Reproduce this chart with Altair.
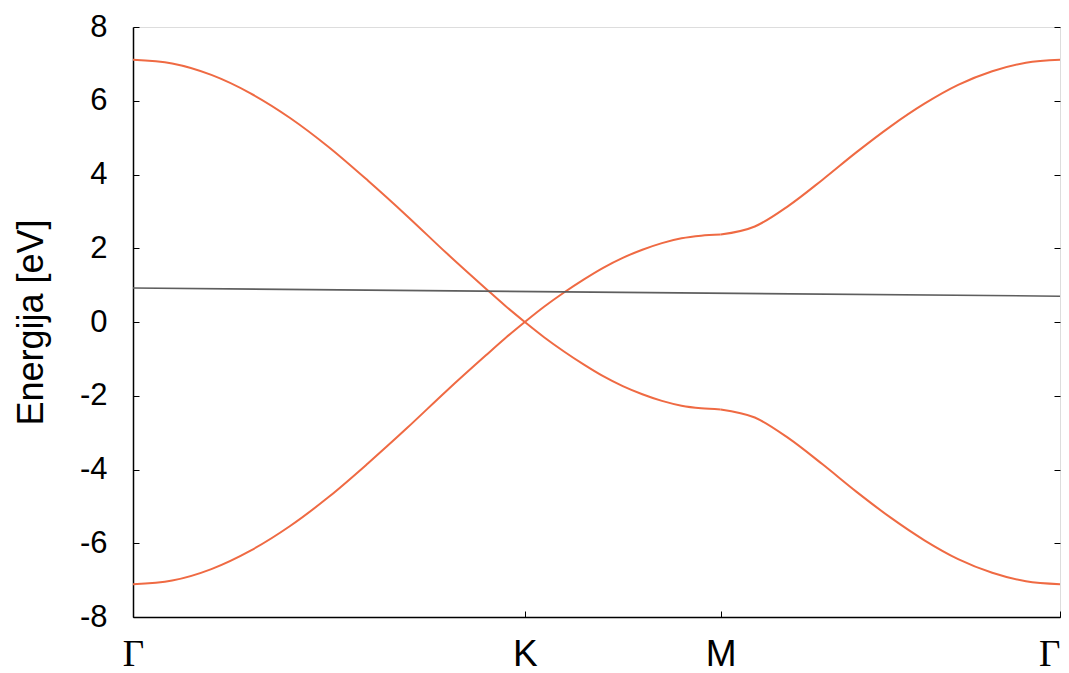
import altair as alt
import pandas as pd

# k-path coordinate (Γ=0, K=1, M=1.5, Γ=2.366) and band energies [eV]
k_path = [0.0, 0.1, 0.2, 0.3, 0.4, 0.5, 0.6, 0.7, 0.8, 0.9, 0.95, 1.0,
          1.0, 1.05, 1.1, 1.15, 1.2, 1.25, 1.3, 1.35, 1.4, 1.45, 1.5,
          1.5, 1.587, 1.673, 1.760, 1.846, 1.933, 2.020, 2.106, 2.193, 2.279, 2.366]
segment = ["GK"] * 12 + ["KM"] * 11 + ["MG"] * 11
e_conduction = [7.11, 7.01, 6.70, 6.20, 5.54, 4.74, 3.83, 2.87, 1.87, 0.91, 0.44, 0.0,
                0.0, 0.42, 0.80, 1.15, 1.47, 1.74, 1.96, 2.14, 2.27, 2.34, 2.37,
                2.37, 2.59, 3.15, 3.86, 4.60, 5.30, 5.92, 6.43, 6.80, 7.03, 7.11]
e_valence = [-7.11, -7.01, -6.70, -6.20, -5.54, -4.74, -3.83, -2.87, -1.87, -0.91, -0.44, 0.0,
             0.0, -0.42, -0.80, -1.15, -1.47, -1.74, -1.96, -2.14, -2.27, -2.34, -2.37,
             -2.37, -2.59, -3.15, -3.86, -4.60, -5.30, -5.92, -6.43, -6.80, -7.03, -7.11]

fermi_k = [0.0, 2.366]
fermi_e = [0.92, 0.70]

x_tick_pos = [0.0, 1.0, 1.5, 2.366]
x_tick_lab = ["Γ", "K", "M", "Γ"]
y_ticks = [-8, -6, -4, -2, 0, 2, 4, 6, 8]

W, H = 927, 590
ORANGE = "#ef6a43"

bands = pd.DataFrame({
    "k": k_path + k_path,
    "E": e_conduction + e_valence,
    "band": ["c_" + s for s in segment] + ["v_" + s for s in segment],
})
fermi = pd.DataFrame({"k": fermi_k, "E": fermi_e})

label_expr = " : ".join(
    f"abs(datum.value - {p}) < 0.01 ? '{l}'" for p, l in zip(x_tick_pos, x_tick_lab)
) + " : ''"
font_expr = "(datum.value < 0.5 || datum.value > 2) ? 'Liberation Serif' : 'Liberation Sans'"
align_expr = "datum.value > 2 ? 'right' : 'center'"

xscale = alt.Scale(domain=[0, 2.366], nice=False, zero=False)
yscale = alt.Scale(domain=[-8, 8], nice=False, zero=False)

x_axis = alt.Axis(
    orient="top", offset=-H, values=x_tick_pos, labelExpr=label_expr,
    tickSize=6, tickColor="black", tickWidth=1,
    domainColor="black", domainWidth=1.5, grid=False,
    labelPadding=-25, labelBaseline="top", labelFontSize=37,
    labelFont={"expr": font_expr}, labelAlign={"expr": align_expr},
    labelColor="black",
    labelOverlap=False, labelFlush=False, labelBound=False, title=None)

band_layer = alt.Chart(bands).mark_line(
    color=ORANGE, strokeWidth=2, interpolate="monotone"
).encode(
    x=alt.X("k:Q", scale=xscale, axis=x_axis),
    y=alt.Y("E:Q", scale=yscale, axis=alt.Axis(
        orient="right", offset=-W, values=y_ticks, labelExpr="'' + datum.value",
        tickSize=6, tickColor="black", tickWidth=1,
        domainColor="black", domainWidth=1.5, grid=False,
        labelPadding=-32, labelAlign="right", labelFontSize=31,
        labelFont="Liberation Sans", labelColor="black",
        labelOverlap=False, labelBound=False, labelFlush=False,
        title="Energija [eV]", titleAngle=270, titleX=-102, titleY=295,
        titleAlign="center", titleBaseline="middle", titleFontSize=36,
        titleFont="Liberation Sans", titleFontWeight="normal", titleColor="black")),
    detail="band:N",
)

fermi_layer = alt.Chart(fermi).mark_line(color="#5e5e5e", strokeWidth=1.6).encode(
    x=alt.X("k:Q", scale=xscale, axis=x_axis),
    y=alt.Y("E:Q", scale=yscale, axis=alt.Axis(
        orient="left", offset=-W, values=y_ticks, labels=False, domain=False,
        tickSize=6, tickColor="black", tickWidth=1, grid=False, title=None)),
)

chart = alt.layer(band_layer, fermi_layer).resolve_axis(y="independent").properties(
    width=W, height=H,
    autosize=alt.AutoSizeParams(type="none"),
    padding={"left": 125, "top": 19, "right": 1, "bottom": 57},
).configure_view(stroke="#6a6a6a", strokeWidth=1.5).configure(background="white")

chart.save("out.html", embed_options={"renderer": "svg", "actions": False})
